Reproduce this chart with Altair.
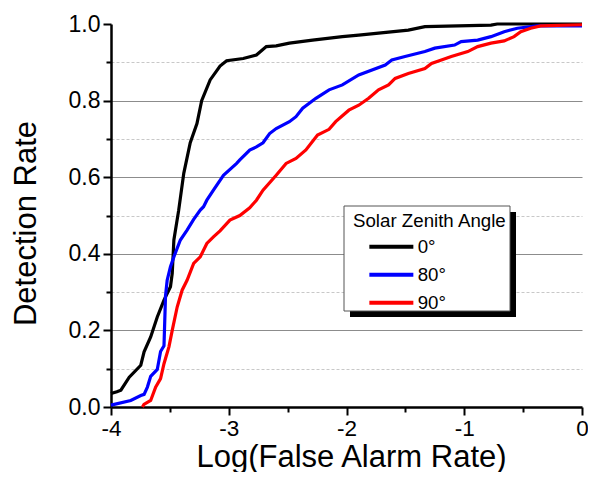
import altair as alt
import pandas as pd

# ---- data ----
black_x = [-4.0, -3.95, -3.916, -3.845, -3.747, -3.719, -3.663, -3.607, -3.55, -3.495, -3.48,
           -3.466, -3.425, -3.382, -3.327, -3.27, -3.23, -3.158, -3.074, -3.018, -2.877, -2.765,
           -2.681, -2.597, -2.485, -2.288, -2.035, -1.896, -1.475, -1.334, -0.773, -0.72, 0.0]
black_y = [0.035, 0.04, 0.044, 0.078, 0.109, 0.144, 0.183, 0.235, 0.279, 0.314, 0.349,
           0.436, 0.514, 0.61, 0.69, 0.74, 0.80, 0.854, 0.89, 0.904, 0.91, 0.919,
           0.941, 0.943, 0.95, 0.958, 0.967, 0.971, 0.984, 0.993, 0.997, 1.0, 1.0]

blue_x = [-4.0, -3.832, -3.747, -3.719, -3.691, -3.663, -3.607, -3.579, -3.55, -3.537, -3.523,
          -3.495, -3.466, -3.411, -3.354, -3.298, -3.242, -3.214, -3.186, -3.13, -3.045, -2.933,
          -2.906, -2.822, -2.765, -2.709, -2.653, -2.597, -2.485, -2.429, -2.372, -2.26, -2.148,
          -2.035, -1.896, -1.671, -1.615, -1.503, -1.334, -1.25, -1.082, -1.026, -0.886, -0.773,
          -0.661, -0.549, -0.38, 0.0]
blue_y = [0.005, 0.017, 0.03, 0.033, 0.052, 0.08, 0.098, 0.145, 0.16, 0.29, 0.331,
          0.366, 0.392, 0.436, 0.462, 0.49, 0.514, 0.523, 0.54, 0.566, 0.605, 0.636,
          0.645, 0.671, 0.679, 0.69, 0.714, 0.727, 0.745, 0.758, 0.78, 0.806, 0.828,
          0.841, 0.867, 0.893, 0.906, 0.915, 0.928, 0.937, 0.945, 0.954, 0.958, 0.967,
          0.98, 0.989, 0.995, 0.995]

red_x = [-3.733, -3.72, -3.663, -3.621, -3.579, -3.55, -3.508, -3.48, -3.438, -3.396, -3.354,
         -3.298, -3.242, -3.186, -3.13, -3.074, -2.99, -2.906, -2.822, -2.765, -2.709, -2.597,
         -2.513, -2.429, -2.345, -2.246, -2.148, -2.092, -1.98, -1.896, -1.812, -1.728, -1.643,
         -1.587, -1.475, -1.334, -1.278, -1.194, -1.11, -0.97, -0.886, -0.773, -0.661, -0.577,
         -0.52, -0.436, -0.352, 0.0]
red_y = [0.0, 0.007, 0.017, 0.052, 0.074, 0.113, 0.157, 0.2, 0.261, 0.305, 0.331,
         0.375, 0.392, 0.427, 0.444, 0.46, 0.488, 0.5, 0.52, 0.54, 0.566, 0.605,
         0.636, 0.649, 0.671, 0.71, 0.725, 0.745, 0.775, 0.788, 0.806, 0.828, 0.841,
         0.858, 0.871, 0.884, 0.897, 0.906, 0.915, 0.928, 0.941, 0.95, 0.956, 0.967,
         0.98, 0.989, 0.995, 0.998]

series_names = ["0°", "80°", "90°"]
series_colors = ["#000000", "#0000ff", "#ff0000"]

x_ticks = [-4, -3.5, -3, -2.5, -2, -1.5, -1, -0.5, 0]
y_ticks = [0.0, 0.1, 0.2, 0.3, 0.4, 0.5, 0.6, 0.7, 0.8, 0.9, 1.0]

rows = []
for name, xs, ys in zip(series_names, [black_x, blue_x, red_x], [black_y, blue_y, red_y]):
    for i, (a, b) in enumerate(zip(xs, ys)):
        rows.append({"far": a, "det": b, "sza": name, "order": i})
df = pd.DataFrame(rows)

FONT = "Liberation Sans"

x_axis = alt.Axis(
    values=x_ticks,
    labelExpr="datum.value % 1 == 0 ? toString(datum.value) : ''",
    tickSize={"condition": {"test": "datum.value % 1 == 0", "value": 8}, "value": 5},
    tickColor="black", tickWidth=2,
    domainColor="black", domainWidth=2.5,
    labelFont=FONT, labelFontSize=22.5, labelColor="black", labelPadding=2,
    labelFlush=False, labelOverlap=False,
    grid=False,
    title="Log(False Alarm Rate)", titleFont=FONT, titleFontSize=31,
    titleFontWeight="normal", titleColor="black",
    titleBaseline="alphabetic", titleY=59, titleX=240, titleAlign="center",
)

y_axis = alt.Axis(
    values=y_ticks,
    labelExpr="round(datum.value*10) % 2 == 0 ? format(datum.value, '.1f') : ''",
    tickSize={"condition": {"test": "round(datum.value*10) % 2 == 0", "value": 8}, "value": 5},
    tickColor="black", tickWidth=2,
    domainColor="black", domainWidth=2.5,
    labelFont=FONT, labelFontSize=23, labelColor="black", labelPadding=3,
    labelFlush=False, labelOverlap=False,
    grid=True,
    gridColor={"condition": {"test": "round(datum.value*10) % 2 == 0", "value": "#8c8c8c"}, "value": "#c8c8c8"},
    gridDash={"condition": {"test": "round(datum.value*10) % 2 == 0", "value": []}, "value": [3, 2]},
    gridWidth=1,
    gridOpacity={"condition": {"test": "datum.value < 0.05 || datum.value > 0.95", "value": 0}, "value": 1},
    title="Detection Rate", titleFont=FONT, titleFontSize=31,
    titleFontWeight="normal", titleColor="black",
    titleAngle=270, titleAlign="center", titleBaseline="alphabetic",
    titleX=-76, titleY=199,
)

legend = alt.Legend(
    orient="none", legendX=232, legendY=178,
    title="Solar Zenith Angle", titleFont=FONT, titleFontSize=18.7,
    titleFontWeight="normal", titleColor="black", titlePadding=6.6,
    labelFont=FONT, labelFontSize=18.7, labelColor="black",
    symbolType="M-4.4,0H4.4", symbolSize=100, symbolStrokeWidth=4,
    symbolOffset=29, labelOffset=17, rowPadding=8,
    padding=10,
)

# legend frame decoration (drop shadow + white box), in pixels of the plot area
deco = pd.DataFrame({"k": [0]})
shadow = alt.Chart(deco).mark_rect(color="black").encode(
    x=alt.value(239), x2=alt.value(405), y=alt.value(188), y2=alt.value(293)
)
frame = alt.Chart(deco).mark_rect(fill="white", stroke="#555555", strokeWidth=1).encode(
    x=alt.value(233), x2=alt.value(399), y=alt.value(182), y2=alt.value(287)
)

lines = alt.Chart(df).mark_line(strokeWidth=3.2, interpolate="linear").encode(
    x=alt.X("far:Q", scale=alt.Scale(domain=[-4, 0], nice=False, zero=False), axis=x_axis),
    y=alt.Y("det:Q", scale=alt.Scale(domain=[0, 1], nice=False, zero=False), axis=y_axis),
    color=alt.Color("sza:N", scale=alt.Scale(domain=series_names, range=series_colors),
                    sort=series_names, legend=legend),
    order="order:Q",
)

chart = alt.layer(shadow, frame, lines).properties(
    width=471, height=383,
    autosize=alt.AutoSizeParams(type="none"),
    padding={"left": 103, "top": 16, "right": 6, "bottom": 65},
    background="white",
).configure_view(strokeWidth=0)

chart.save("out.html", embed_options={"renderer": "svg", "actions": False})
